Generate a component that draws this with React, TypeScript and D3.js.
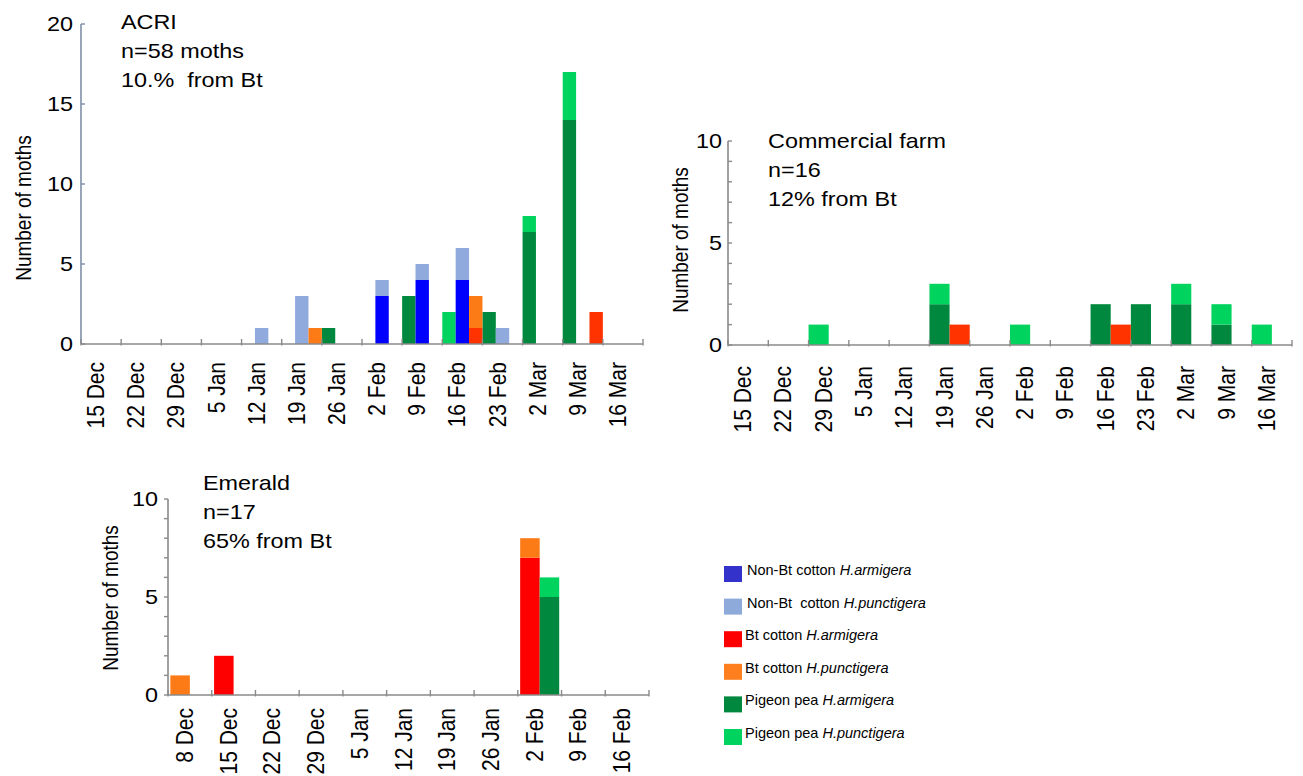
import React from 'react';
import * as d3 from 'd3';

// ---------- data ----------
const acriWeeks = ['15 Dec', '22 Dec', '29 Dec', '5 Jan', '12 Jan', '19 Jan', '26 Jan', '2 Feb', '9 Feb', '16 Feb', '23 Feb', '2 Mar', '9 Mar', '16 Mar'];
const acriNonBtArm = [0, 0, 0, 0, 0, 0, 0, 3, 4, 4, 0, 0, 0, 0];
const acriNonBtPunc = [0, 0, 0, 0, 1, 3, 0, 1, 1, 2, 1, 0, 0, 0];
const acriBtArm = [0, 0, 0, 0, 0, 0, 0, 0, 0, 1, 0, 0, 2, 0];
const acriBtPunc = [0, 0, 0, 0, 0, 1, 0, 0, 0, 2, 0, 0, 0, 0];
const acriPigeonArm = [0, 0, 0, 0, 0, 0, 1, 0, 3, 0, 2, 7, 14, 0];
const acriPigeonPunc = [0, 0, 0, 0, 0, 0, 0, 0, 0, 2, 0, 1, 3, 0];
const acriTitle = ['ACRI', 'n=58 moths', '10.%  from Bt'];
const acriYTicks = [0, 5, 10, 15, 20];

const commWeeks = ['15 Dec', '22 Dec', '29 Dec', '5 Jan', '12 Jan', '19 Jan', '26 Jan', '2 Feb', '9 Feb', '16 Feb', '23 Feb', '2 Mar', '9 Mar', '16 Mar'];
const commPigeonArm = [0, 0, 0, 0, 0, 2, 0, 0, 0, 2, 2, 2, 1, 0];
const commPigeonPunc = [0, 0, 1, 0, 0, 1, 0, 1, 0, 0, 0, 1, 1, 1];
const commBtArm = [0, 0, 0, 0, 0, 1, 0, 0, 0, 1, 0, 0, 0, 0];
const commBtPunc = [0, 0, 0, 0, 0, 0, 0, 0, 0, 0, 0, 0, 0, 0];
const commTitle = ['Commercial farm', 'n=16', '12% from Bt'];
const commYTicks = [0, 5, 10];

const emWeeks = ['8 Dec', '15 Dec', '22 Dec', '29 Dec', '5 Jan', '12 Jan', '19 Jan', '26 Jan', '2 Feb', '9 Feb', '16 Feb'];
const emBtArm = [0, 2, 0, 0, 0, 0, 0, 0, 7, 0, 0];
const emBtPunc = [1, 0, 0, 0, 0, 0, 0, 0, 1, 0, 0];
const emPigeonArm = [0, 0, 0, 0, 0, 0, 0, 0, 5, 0, 0];
const emPigeonPunc = [0, 0, 0, 0, 0, 0, 0, 0, 1, 0, 0];
const emTitle = ['Emerald', 'n=17', '65% from Bt'];
const emYTicks = [0, 5, 10];

const legendLabels = ['Non-Bt cotton ', 'Non-Bt  cotton ', 'Bt cotton ', 'Bt cotton ', 'Pigeon pea ', 'Pigeon pea '];
const legendSpecies = ['H.armigera', 'H.punctigera', 'H.armigera', 'H.punctigera', 'H.armigera', 'H.punctigera'];

// ---------- style ----------
const FONT = '"Liberation Sans", Arial, Helvetica, sans-serif';
const SX = 1.17;
const C = {
  blue: '#0000ff',
  lightBlue: '#91aade',
  red: '#ff3300',
  pureRed: '#ff0000',
  orange: '#fc7b17',
  darkGreen: '#00893e',
  lightGreen: '#00d45f',
};
const legendColors = ['#3333cc', '#8eaadb', '#ff0000', '#ff7f1e', '#00883e', '#00d45e'];
const AXIS = '#8a8a8a';

type Series = { values: number[]; color: string };
type Group = { key: string; series: Series[] };

type PanelCfg = {
  weeks: string[];
  groups: Group[];
  x0: number; x1: number;
  yTop: number; yBottom: number; yMax: number;
  yTicks: number[];
  minor: boolean;
  yAxisColor: string;
  tickDir: number; // +1 right, -1 left
  tickLabelEnd: number;
  xLabelGap: number;
  innerPad: number;
  ylabelX: number; ylabelY: number;
  title: string[]; titleX: number; titleY: number;
};

function SText({ x, y, size, anchor = 'start', rotate = false, italic = false, children }: any) {
  return (
    <text
      transform={`translate(${x},${y}) scale(${SX},1)${rotate ? ' rotate(-90)' : ''}`}
      fontSize={size}
      fontFamily={FONT}
      textAnchor={anchor}
      fontStyle={italic ? 'italic' : 'normal'}
      fill="#000"
      style={{ whiteSpace: 'pre' }}
    >
      {children}
    </text>
  );
}

function Panel({ cfg }: { cfg: PanelCfg }) {
  const x = d3.scaleBand<string>().domain(cfg.weeks).range([cfg.x0, cfg.x1]).paddingInner(0).paddingOuter(0);
  const inner = d3
    .scaleBand<string>()
    .domain(cfg.groups.map((g) => g.key))
    .range([0, x.bandwidth()])
    .paddingInner(0)
    .paddingOuter(cfg.innerPad);
  const y = d3.scaleLinear().domain([0, cfg.yMax]).range([cfg.yBottom, cfg.yTop]);
  const boundaries = [...cfg.weeks.map((w) => x(w) as number), cfg.x1];
  const minorTicks = cfg.minor ? d3.range(0, cfg.yMax + 1, 1) : cfg.yTicks;

  return (
    <g>
      {/* bars */}
      {cfg.groups.map((g) => {
        const rows = cfg.weeks.map((w, i) => {
          const r: any = { week: w };
          g.series.forEach((s, k) => (r['s' + k] = s.values[i]));
          return r;
        });
        const stack = d3.stack<any>().keys(g.series.map((_, k) => 's' + k))(rows);
        return stack.map((layer, k) =>
          layer.map((d, i) => {
            if (d[1] - d[0] <= 0) return null;
            return (
              <rect
                key={g.key + k + i}
                x={(x(d.data.week) as number) + (inner(g.key) as number)}
                width={inner.bandwidth()}
                y={y(d[1])}
                height={y(d[0]) - y(d[1])}
                fill={g.series[k].color}
              />
            );
          })
        );
      })}
      {/* y axis */}
      <line x1={cfg.x0} x2={cfg.x0} y1={y(cfg.yMax)} y2={y(0)} stroke={cfg.yAxisColor} strokeWidth={1.6} />
      {minorTicks.map((t) => (
        <line key={'yt' + t} x1={cfg.x0} x2={cfg.x0 + cfg.tickDir * 4} y1={y(t)} y2={y(t)} stroke={cfg.yAxisColor} strokeWidth={1.4} />
      ))}
      {cfg.yTicks.map((t) => (
        <SText key={'yl' + t} x={cfg.tickLabelEnd} y={y(t) + 7} size={20} anchor="end">
          {String(t)}
        </SText>
      ))}
      {/* x axis */}
      <line x1={cfg.x0} x2={cfg.x1} y1={y(0)} y2={y(0)} stroke={AXIS} strokeWidth={1.6} />
      {boundaries.map((b, i) => (
        <line key={'xt' + i} x1={b} x2={b} y1={y(0) - 5} y2={y(0) + 1.5} stroke={AXIS} strokeWidth={1.4} />
      ))}
      {cfg.weeks.map((w) => (
        <SText
          key={'xl' + w}
          x={(x(w) as number) + x.bandwidth() / 2 + 3}
          y={y(0) + cfg.xLabelGap}
          size={21}
          anchor="end"
          rotate
        >
          {w}
        </SText>
      ))}
      {/* y title */}
      <SText x={cfg.ylabelX} y={cfg.ylabelY} size={19} anchor="middle" rotate>
        Number of moths
      </SText>
      {/* panel title */}
      {cfg.title.map((t, i) => (
        <SText key={'t' + i} x={cfg.titleX} y={cfg.titleY + i * 29} size={20}>
          {t}
        </SText>
      ))}
    </g>
  );
}

const acriCfg: PanelCfg = {
  weeks: acriWeeks,
  groups: [
    { key: 'pigeon', series: [{ values: acriPigeonArm, color: C.darkGreen }, { values: acriPigeonPunc, color: C.lightGreen }] },
    { key: 'nonbt', series: [{ values: acriNonBtArm, color: C.blue }, { values: acriNonBtPunc, color: C.lightBlue }] },
    { key: 'bt', series: [{ values: acriBtArm, color: C.red }, { values: acriBtPunc, color: C.orange }] },
  ],
  x0: 81, x1: 643,
  yTop: 24, yBottom: 344, yMax: 20,
  yTicks: acriYTicks,
  minor: false,
  yAxisColor: '#7f8fa8',
  tickDir: 1,
  tickLabelEnd: 73,
  xLabelGap: 18,
  innerPad: 0,
  ylabelX: 31, ylabelY: 208,
  title: acriTitle, titleX: 121, titleY: 29,
};

const commCfg: PanelCfg = {
  weeks: commWeeks,
  groups: [
    { key: 'pigeon', series: [{ values: commPigeonArm, color: C.darkGreen }, { values: commPigeonPunc, color: C.lightGreen }] },
    { key: 'bt', series: [{ values: commBtArm, color: C.red }, { values: commBtPunc, color: C.orange }] },
  ],
  x0: 728, x1: 1292,
  yTop: 141, yBottom: 345, yMax: 10,
  yTicks: commYTicks,
  minor: true,
  yAxisColor: AXIS,
  tickDir: 1,
  tickLabelEnd: 722,
  xLabelGap: 21,
  innerPad: 0,
  ylabelX: 688, ylabelY: 240,
  title: commTitle, titleX: 768, titleY: 148,
};

const emCfg: PanelCfg = {
  weeks: emWeeks,
  groups: [
    { key: 'bt', series: [{ values: emBtArm, color: C.pureRed }, { values: emBtPunc, color: C.orange }] },
    { key: 'pigeon', series: [{ values: emPigeonArm, color: C.darkGreen }, { values: emPigeonPunc, color: C.lightGreen }] },
  ],
  x0: 168, x1: 649,
  yTop: 499, yBottom: 695, yMax: 10,
  yTicks: emYTicks,
  minor: true,
  yAxisColor: AXIS,
  tickDir: -1,
  tickLabelEnd: 158,
  xLabelGap: 13,
  innerPad: 0.12,
  ylabelX: 118, ylabelY: 598,
  title: emTitle, titleX: 203, titleY: 490,
};

function Legend() {
  const ly = d3.scaleLinear().domain([0, legendLabels.length - 1]).range([575, 738]);
  return (
    <g>
      {legendLabels.map((l, i) => (
        <g key={'lg' + i}>
          <rect x={724} y={ly(i) - 9} width={18} height={16} fill={legendColors[i]} />
          <text x={i < 2 ? 747 : 745} y={ly(i)} fontSize={14.5} fontFamily={FONT} fill="#000" style={{ whiteSpace: 'pre' }}>
            {l}
            <tspan fontStyle="italic">{legendSpecies[i]}</tspan>
          </text>
        </g>
      ))}
    </g>
  );
}

export default function App() {
  return (
    <svg
      width={1303}
      height={776}
      style={{ position: 'absolute', left: 0, top: 0, background: '#fff' }}
    >
      <rect x={0} y={0} width={1303} height={776} fill="#fff" />
      <Panel cfg={acriCfg} />
      <Panel cfg={commCfg} />
      <Panel cfg={emCfg} />
      <Legend />
    </svg>
  );
}
